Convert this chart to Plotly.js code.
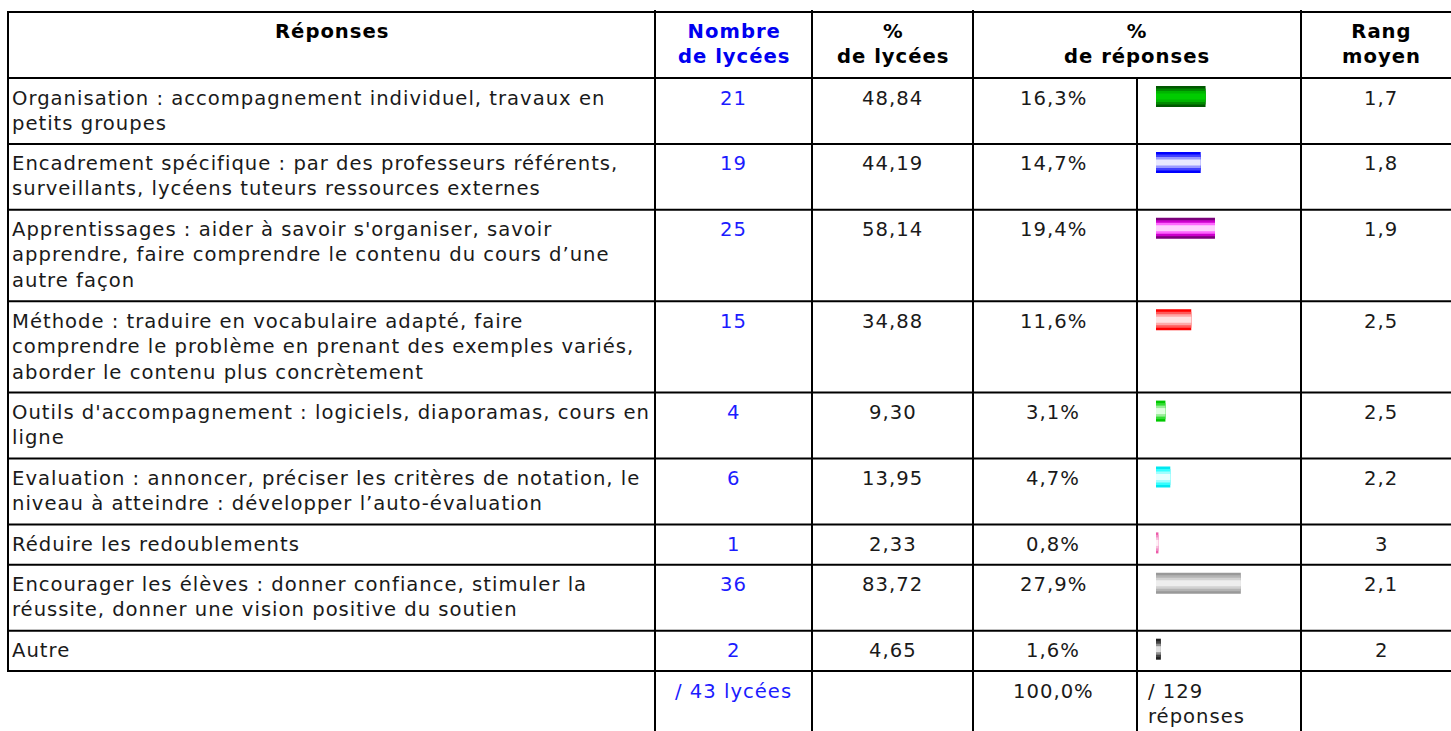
<!DOCTYPE html>
<html>
<head>
<meta charset="utf-8">
<script src="https://cdn.plot.ly/plotly-3.0.1.min.js"></script>
<style>
html,body{margin:0;padding:0;background:#fff;}
#chart{width:1451px;height:731px;}
.annotation-text{letter-spacing:1px;}
</style>
</head>
<body>
<div id="chart"></div>
<script>
// ---- data ----
const headers = ["Réponses", "Nombre<br>de lycées", "%<br>de lycées", "%<br>de réponses", "Rang<br>moyen"];
const categories = [
  "Organisation : accompagnement individuel, travaux en<br>petits groupes",
  "Encadrement spécifique : par des professeurs référents,<br>surveillants, lycéens tuteurs ressources externes",
  "Apprentissages : aider à savoir s'organiser, savoir<br>apprendre, faire comprendre le contenu du cours d’une<br>autre façon",
  "Méthode : traduire en vocabulaire adapté, faire<br>comprendre le problème en prenant des exemples variés,<br>aborder le contenu plus concrètement",
  "Outils d'accompagnement : logiciels, diaporamas, cours en<br>ligne",
  "Evaluation : annoncer, préciser les critères de notation, le<br>niveau à atteindre : développer l’auto-évaluation",
  "Réduire les redoublements",
  "Encourager les élèves : donner confiance, stimuler la<br>réussite, donner une vision positive du soutien",
  "Autre"
];
const nombreLycees = [21, 19, 25, 15, 4, 6, 1, 36, 2];
const pctLycees = [48.84, 44.19, 58.14, 34.88, 9.30, 13.95, 2.33, 83.72, 4.65];
const pctReponses = [16.3, 14.7, 19.4, 11.6, 3.1, 4.7, 0.8, 27.9, 1.6];
const rangMoyen = ["1,7", "1,8", "1,9", "2,5", "2,5", "2,2", "3", "2,1", "2"];
const totalLycees = "/ 43 lycées";
const totalPct = "100,0%";
const totalReponses = "/ 129<br>réponses";
// bar shading, edge -> centre
const barBands = [
  ["#005800", "#008a00", "#00b400", "#00cc00"],
  ["#0000ff", "#4040ff", "#9a9aff", "#e8e8ff"],
  ["#7a007a", "#cc00cc", "#ff66ff", "#ffd0ff"],
  ["#ff0000", "#ff5a5a", "#ffa8a8", "#ffe2e2"],
  ["#00c800", "#33dd33", "#99ee99", "#e0ffe0"],
  ["#00e8f0", "#33ffff", "#a0ffff", "#e6ffff"],
  ["#ec5aa8", "#f28cc4", "#f8c0dd", "#fff0f6"],
  ["#999999", "#b4b4b4", "#d2d2d2", "#eeeeee"],
  ["#202020", "#444444", "#909090", "#e0e0e0"]
];

// ---- layout geometry ----
const W = 1451, H = 731;
const colX = [8, 655, 812, 973, 1137, 1301];
const tableTop = 12, headBottom = 78;
const rowPad = 14.9, lineH = 25.5;
const FONT = "DejaVu Sans, Verdana, sans-serif";
const FS = 19.6;
const txt = "#1a1a1a", blueNum = "#1c1cff", blueHead = "#0000f0";

const nLines = categories.map(c => c.split("<br>").length);
const rowTops = [];
let yy = headBottom;
nLines.forEach(n => { rowTops.push(yy); yy += rowPad + lineH * n; });
const tableBottom = yy;
const fmt = v => v.toFixed(2).replace(".", ",");
const fmt1 = v => v.toFixed(1).replace(".", ",") + "%";

// ---- shapes: grid ----
const shapes = [];
const ln = (x0, y0, x1, y1) => shapes.push({type: "line", xref: "x", yref: "y", x0, y0, x1, y1, line: {color: "#000", width: 2}, layer: "above"});
ln(colX[0], tableTop, W, tableTop);
ln(colX[0], headBottom, W, headBottom);
rowTops.slice(1).forEach(t => ln(colX[0], t, W, t));
ln(colX[0], tableBottom, W, tableBottom);
ln(colX[0], tableTop - 1, colX[0], tableBottom + 1);
[1, 2, 3, 5].forEach(i => ln(colX[i], tableTop - 2, colX[i], H));
ln(colX[4], headBottom, colX[4], H);

// ---- annotations ----
const ann = [];
const A = (x, y, text, opts) => ann.push(Object.assign({x, y, xref: "x", yref: "y", text, showarrow: false, borderpad: 0, xanchor: "center", yanchor: "top", align: "center", font: {family: FONT, size: FS, color: txt}}, opts || {}));
const headCx = [(colX[0] + colX[1]) / 2, (colX[1] + colX[2]) / 2, (colX[2] + colX[3]) / 2, colX[4], 1381];
headers.forEach((h, i) => A(headCx[i], tableTop + 7, "<b>" + h + "</b>", {font: {family: FONT, size: FS, color: i === 1 ? blueHead : "#000"}}));
const topOff = 7.5;
categories.forEach((c, i) => {
  const t = rowTops[i] + topOff;
  A(colX[0] + 3, t, c, {xanchor: "left", align: "left"});
  A(headCx[1], t, String(nombreLycees[i]), {font: {family: FONT, size: FS, color: blueNum}});
  A(headCx[2], t, fmt(pctLycees[i]));
  A(1053, t, fmt1(pctReponses[i]));
  A(1381, t, rangMoyen[i]);
});
A(headCx[1], tableBottom + topOff, totalLycees, {font: {family: FONT, size: FS, color: blueNum}});
A(1053, tableBottom + topOff, totalPct);
A(colX[4] + 10, tableBottom + topOff, totalReponses, {xanchor: "left", align: "left"});

// ---- bars ----
const pxPerPct = 3.04, barStart = 1156;
const bandWidths = [21, 16, 11, 6];
const barY = rowTops.map(t => t + 18.5);
const traces = bandWidths.map((w, k) => ({
  type: "bar", orientation: "h", xaxis: "x2", yaxis: "y",
  x: pctReponses, y: barY, width: w, base: 0,
  marker: {color: barBands.map(b => b[k]), line: {width: 0}},
  hoverinfo: "skip", showlegend: false
}));

const layout = {
  width: W, height: H, margin: {l: 0, r: 0, t: 0, b: 0},
  paper_bgcolor: "#fff", plot_bgcolor: "#fff",
  barmode: "overlay", showlegend: false,
  xaxis: {range: [0, W], visible: false, fixedrange: true},
  xaxis2: {range: [-barStart / pxPerPct, (W - barStart) / pxPerPct], overlaying: "x", visible: false, fixedrange: true},
  yaxis: {range: [H, 0], visible: false, fixedrange: true},
  shapes, annotations: ann
};
Plotly.newPlot("chart", traces, layout, {displayModeBar: false, staticPlot: true});
</script>
</body>
</html>
